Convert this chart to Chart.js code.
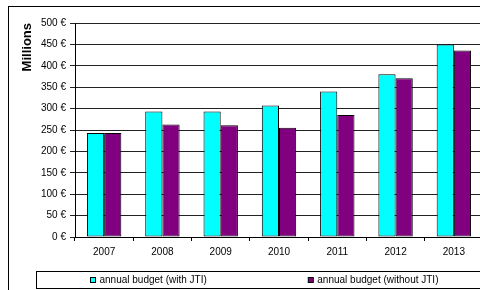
<!DOCTYPE html>
<html>
<head>
<meta charset="utf-8">
<script src="https://cdn.jsdelivr.net/npm/chart.js@4"></script>
<style>
html,body{margin:0;padding:0;overflow:hidden;background:#fff;width:480px;height:290px;}
#wrap{position:absolute;left:0;top:0;width:500px;height:300px;}
</style>
</head>
<body>
<div id="wrap"><canvas id="c" width="500" height="300"></canvas></div>
<script>
const categories = ['2007', '2008', '2009', '2010', '2011', '2012', '2013'];
const budgetWithJTI = [243, 293, 293, 307, 340, 380, 450];
const budgetWithoutJTI = [243, 263, 261, 255, 285, 371, 436];
const seriesLabels = ['annual budget (with JTI)', 'annual budget (without JTI)'];
const seriesColors = ['#00FFFF', '#800080'];
const yAxisTitle = 'Millions';
const currencySuffix = ' €';

const FONT = '"Liberation Sans", Arial, sans-serif';

const frameAndLegend = {
  id: 'frameAndLegend',
  afterDraw(chart) {
    const ctx = chart.ctx;
    ctx.save();
    ctx.strokeStyle = '#000';
    ctx.lineWidth = 1;
    // outer frame
    ctx.strokeRect(8.5, 6.5, 488, 291);
    // legend box
    const bx = 36.5, by = 271.5, bw = 455, bh = 17;
    ctx.strokeRect(bx, by, bw, bh);
    ctx.font = '10px ' + FONT;
    ctx.textBaseline = 'middle';
    ctx.fillStyle = '#000';
    const sq = 6, gapText = 3.5, gapItems = 101;
    const items = chart.data.datasets.map(ds => ({
      label: ds.label, color: ds.backgroundColor,
      w: sq + gapText + ctx.measureText(ds.label).width
    }));
    const total = items.reduce((s, it) => s + it.w, 0) + gapItems * (items.length - 1);
    let x = Math.round(bx + bw / 2 - total / 2);
    const cy = by + bh / 2;
    items.forEach(it => {
      ctx.fillStyle = it.color;
      ctx.fillRect(x + 0.5, cy - 3 + 0.5, sq - 1, sq - 1);
      ctx.strokeStyle = '#000';
      ctx.strokeRect(x + 0.5, cy - 3 + 0.5, sq - 1, sq - 1);
      ctx.fillStyle = '#000';
      ctx.fillText(it.label, x + sq + gapText, cy + 0.5);
      x += it.w + gapItems;
    });
    ctx.restore();
  }
};

new Chart(document.getElementById('c'), {
  type: 'bar',
  data: {
    labels: categories,
    datasets: [
      { label: seriesLabels[0], data: budgetWithJTI, backgroundColor: seriesColors[0],
        borderColor: '#000', borderWidth: 1, borderSkipped: false },
      { label: seriesLabels[1], data: budgetWithoutJTI, backgroundColor: seriesColors[1],
        borderColor: '#000', borderWidth: 1, borderSkipped: false }
    ]
  },
  options: {
    responsive: false,
    animation: false,
    devicePixelRatio: 1,
    layout: { padding: { left: 0, right: 17, top: 23, bottom: 33 } },
    plugins: { legend: { display: false }, tooltip: { enabled: false } },
    datasets: { bar: { categoryPercentage: 0.59, barPercentage: 1.0 } },
    scales: {
      x: {
        grid: { drawOnChartArea: false, drawTicks: true, tickLength: 4, color: '#000', offset: true },
        border: { color: '#000', width: 1 },
        ticks: { color: '#000', font: { family: FONT, size: 10 }, padding: 5, maxRotation: 0 },
        afterFit(scale) { scale.height = 30; }
      },
      y: {
        min: 0, max: 500,
        grid: { color: '#222', tickLength: 5, drawTicks: true },
        border: { color: '#000', width: 1 },
        ticks: { stepSize: 50, color: '#000', font: { family: FONT, size: 10 }, padding: 4,
          callback: v => v + currencySuffix },
        title: { display: true, text: yAxisTitle, align: 'end', color: '#000',
          font: { family: FONT, size: 13, weight: 'bold' }, padding: { top: 20, bottom: 0 } },
        afterFit(scale) { scale.width = 75; }
      }
    }
  },
  plugins: [frameAndLegend]
});
</script>
</body>
</html>
